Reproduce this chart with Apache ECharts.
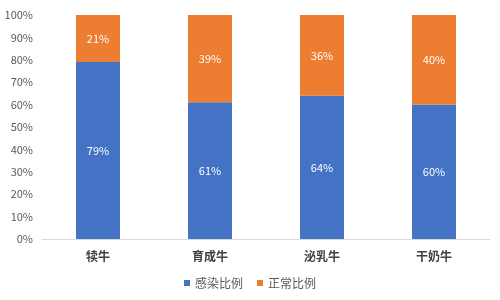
<!DOCTYPE html>
<html><head><meta charset="utf-8">
<script src="https://cdn.jsdelivr.net/npm/echarts@6/dist/echarts.min.js"></script>
<style>html,body{margin:0;padding:0;background:#fff}#c{width:500px;height:300px}</style>
</head><body><div id="c"></div>
<script>
const categories = ['犊牛', '育成牛', '泌乳牛', '干奶牛'];
const infected = [79, 61, 64, 60];
const normal = [21, 39, 36, 40];
const yTicks = [0, 10, 20, 30, 40, 50, 60, 70, 80, 90, 100];

const chart = echarts.init(document.getElementById('c'), null, {renderer: 'canvas'});
const font = '"Microsoft YaHei","Noto Sans CJK SC",sans-serif';
const lbl = {show: true, position: 'inside', color: '#fff', fontSize: 11, fontFamily: font, formatter: p => p.value + '%'};
chart.setOption({
  animation: false,
  grid: {left: 42, right: 10, top: 15, bottom: 61},
  legend: {
    bottom: 6, left: 'center', itemWidth: 6, itemHeight: 6, itemGap: 14,
    icon: 'rect',
    textStyle: {color: '#595959', fontSize: 12, fontFamily: font},
    data: ['感染比例', '正常比例']
  },
  xAxis: {
    type: 'category', data: categories,
    axisLine: {lineStyle: {color: '#d9d9d9'}},
    axisTick: {show: false},
    axisLabel: {color: '#404040', fontSize: 12, fontWeight: 'bold', fontFamily: font, margin: 11}
  },
  yAxis: {
    type: 'value', min: yTicks[0], max: yTicks[yTicks.length - 1], interval: 10,
    axisLine: {show: false}, axisTick: {show: false},
    splitLine: {show: false},
    axisLabel: {color: '#595959', fontSize: 11, fontFamily: font, margin: 9, formatter: v => v + '%'}
  },
  series: [
    {name: '感染比例', type: 'bar', stack: 's', data: infected, barWidth: 44, itemStyle: {color: '#4472C4'}, label: lbl},
    {name: '正常比例', type: 'bar', stack: 's', data: normal, barWidth: 44, itemStyle: {color: '#ED7D31'}, label: lbl}
  ]
});
</script></body></html>
